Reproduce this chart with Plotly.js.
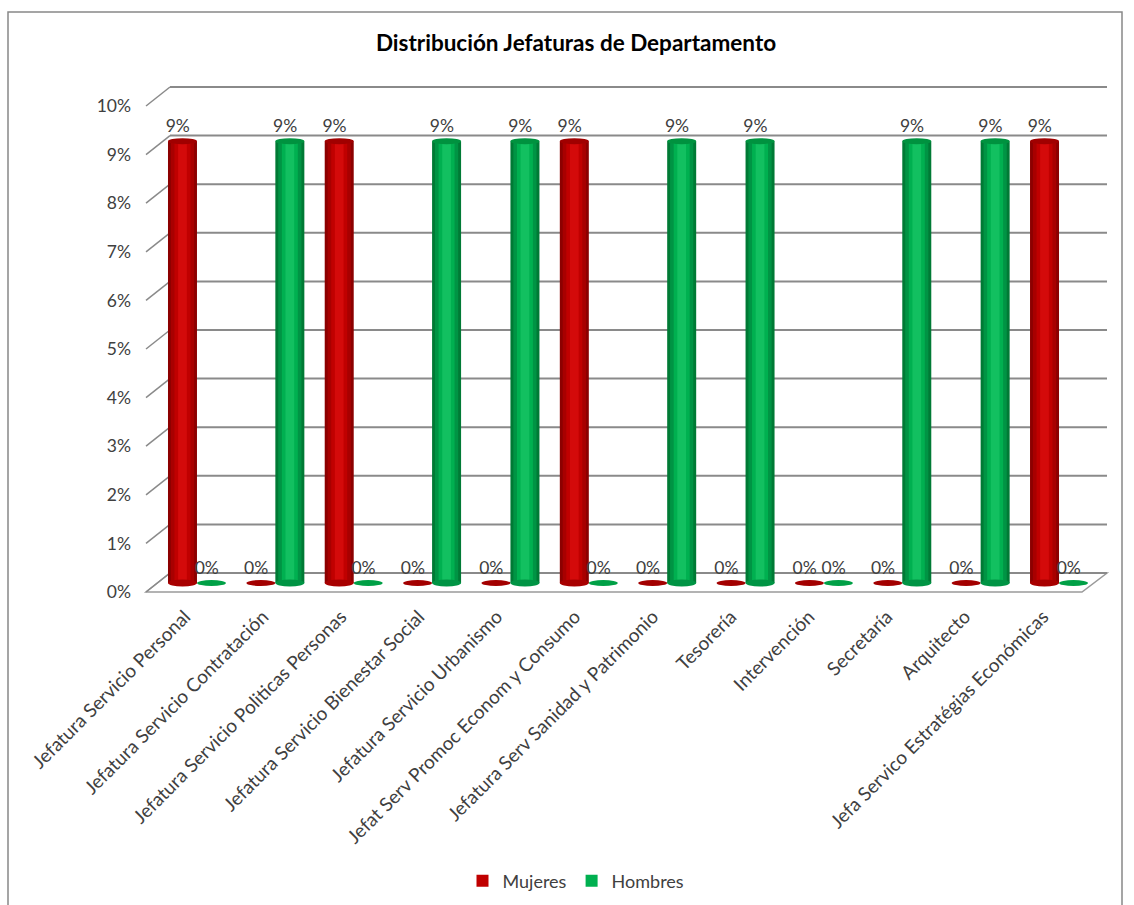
<!DOCTYPE html>
<html>
<head>
<meta charset="utf-8">
<script src="https://cdn.plot.ly/plotly-3.0.1.min.js"></script>
<style>
  html, body { margin: 0; padding: 0; background: #ffffff; }
  #chart { width: 1134px; height: 905px; }
</style>
</head>
<body>
<div id="chart"></div>
<script>
// Departments (x categories)
const categories = [
  "Jefatura Servicio Personal",
  "Jefatura Servicio Contratación",
  "Jefatura Servicio Politicas Personas",
  "Jefatura Servicio Bienestar Social",
  "Jefatura Servicio Urbanismo",
  "Jefat Serv Promoc Econom y Consumo",
  "Jefatura Serv Sanidad y Patrimonio",
  "Tesorería",
  "Intervención",
  "Secretaría",
  "Arquitecto",
  "Jefa Servico Estratégias Económicas"
];

// Share of department heads by sex (fraction of total)
const mujeres = [0.0909, 0, 0.0909, 0, 0, 0.0909, 0, 0, 0, 0, 0, 0.0909];
const hombres = [0, 0.0909, 0, 0.0909, 0.0909, 0, 0.0909, 0.0909, 0, 0.0909, 0.0909, 0];

const seriesNames = ["Mujeres", "Hombres"];

// Value axis ticks
const yTicks = [0, 0.01, 0.02, 0.03, 0.04, 0.05, 0.06, 0.07, 0.08, 0.09, 0.10];

// ---- page geometry helpers (pixels -> paper fractions) ----
const W = 1134, H = 905;
const px = x => x / W;
const py = y => (H - y) / H;
const PX_PER_UNIT = 4860;   // vertical pixels per 100 %
const pad = p => p / PX_PER_UNIT;

const FONT = "Lato, 'Open Sans', sans-serif";
const TXT = "#404040";
const GRID = "#8a8a8a";

const idx = categories.map((c, i) => i);
const barW = 0.37;              // bar width in category units
const half = barW / 2;
const offsets = [-half, half];  // Mujeres left, Hombres right

// cylinder shading: outer -> inner layers
const shades = {
  Mujeres: { layers: ["#8c0000", "#a80000", "#c00000", "#d40a0a"], cap: "#a00000", disc: "#a30000", legend: "#c00000" },
  Hombres: { layers: ["#007a35", "#009444", "#00b050", "#12c060"], cap: "#00923f", disc: "#00a046", legend: "#00b050" }
};
const layerFrac = [1, 0.8, 0.55, 0.3];

const traces = [];
const shapes = [];
const seriesValues = [mujeres, hombres];

seriesNames.forEach((name, s) => {
  const vals = seriesValues[s];
  const xs = idx.map(i => i + offsets[s]);
  const sh = shades[name];
  layerFrac.forEach((f, k) => {
    traces.push({
      type: "bar",
      x: xs,
      y: vals,
      width: barW * f,
      xaxis: "x3", yaxis: "y3",
      name: name,
      legendgroup: name,
      showlegend: k === 2,
      marker: { color: k === 2 ? sh.legend : sh.layers[k], line: { width: 0 } },
      hoverinfo: "skip"
    });
  });
  // value labels (transparent marker keeps the text clear of the bar end)
  traces.push({
    type: "scatter",
    mode: "markers+text",
    x: idx.map(i => i + offsets[s] - 0.06),
    y: vals,
    texttemplate: "%{y:.0%}",
    textposition: "top center",
    textfont: { family: FONT, size: 17.5, color: TXT },
    marker: { size: 6, color: "rgba(0,0,0,0)" },
    xaxis: "x3", yaxis: "y3",
    showlegend: false,
    cliponaxis: false,
    hoverinfo: "skip"
  });
  // cylinder ends / flat discs for zero values
  vals.forEach((v, i) => {
    const xc = i + offsets[s];
    const base = { type: "circle", xref: "x3", yref: "y3", xsizemode: "pixel", ysizemode: "pixel",
                   xanchor: xc, x0: -14.5, x1: 14.5, layer: "above", line: { width: 0 } };
    if (v > 0) {
      shapes.push(Object.assign({}, base, { yanchor: 0, y0: -3.5, y1: 3.5, fillcolor: sh.layers[1] }));
      shapes.push(Object.assign({}, base, { yanchor: v, y0: -3, y1: 3, fillcolor: sh.cap }));
    } else {
      shapes.push(Object.assign({}, base, { yanchor: 0, y0: -3, y1: 3, fillcolor: sh.disc }));
    }
  });
});

// floor
shapes.push({ type: "path", xref: "paper", yref: "paper", layer: "below",
  path: `M ${px(146)} ${py(592)} L ${px(1082)} ${py(592)} L ${px(1107)} ${py(573)} L ${px(170)} ${py(573)} Z`,
  fillcolor: "#ffffff", line: { color: "#9a9a9a", width: 1.5 } });

// back-wall gridlines and diagonal connectors to the front labels
yTicks.forEach(v => {
  shapes.push({ type: "line", xref: "paper", yref: "y", layer: "below",
                x0: px(170), x1: px(1107), y0: v, y1: v,
                line: { color: GRID, width: 2 } });
  shapes.push({ type: "line", xref: "paper", yref: "y2", ysizemode: "pixel", yanchor: v,
                x0: px(146), x1: px(170), y0: 0, y1: 19, layer: "below",
                line: { color: GRID, width: 1.5 } });
});

// outer frame
shapes.push({ type: "rect", xref: "paper", yref: "paper", layer: "below",
  x0: px(8), x1: px(1122), y0: -0.02, y1: py(12),
  fillcolor: "rgba(0,0,0,0)", line: { color: "#888888", width: 1.5 } });

const layout = {
  width: W, height: H,
  margin: { l: 0, r: 0, t: 0, b: 0, pad: 0 },
  paper_bgcolor: "#ffffff",
  plot_bgcolor: "rgba(0,0,0,0)",
  barmode: "overlay",
  font: { family: FONT, color: TXT, size: 17.5 },
  title: {
    text: "<b>Distribución Jefaturas de Departamento</b>",
    x: px(576), xanchor: "center", y: py(43), yanchor: "middle",
    font: { family: FONT, size: 22.5, color: "#000000" }
  },
  // back wall: 0..10 % at y = 573..87 px (domain padded 4 px so edge lines are not clipped)
  xaxis: { domain: [px(170), px(1107)], range: [0, 1], visible: false, fixedrange: true },
  yaxis: { domain: [py(577), py(83)], range: [-pad(4), 0.1 + pad(4)], visible: false, fixedrange: true },
  // front edge: labels, 0..10 % at y = 592..106 px (padded so the connectors fit)
  xaxis2: { domain: [px(146), px(1082)], range: [-0.5, 11.5], anchor: "y2",
            tickvals: idx, ticktext: categories, tickangle: -45, ticks: "",
            showgrid: false, zeroline: false, showline: false, ticklabelstandoff: 6,
            tickfont: { family: FONT, size: 19, color: TXT }, fixedrange: true },
  yaxis2: { domain: [py(595), py(82)], range: [-pad(3), 0.1 + pad(24)], anchor: "x2",
            tickvals: yTicks, tickformat: ".0%", ticks: "", showgrid: false,
            zeroline: false, showline: false, ticklabelstandoff: 14,
            tickfont: { family: FONT, size: 17.5, color: TXT }, fixedrange: true },
  // bars (mid depth): 0 at y = 583 px, domain extended 10 px below for the end discs
  xaxis3: { domain: [px(157.8), px(1098.2)], range: [-0.5, 11.5], anchor: "y3", visible: false, fixedrange: true },
  yaxis3: { domain: [py(593), py(97)], range: [-pad(10), 0.1], anchor: "x3", visible: false, fixedrange: true },
  showlegend: true,
  legend: {
    orientation: "h", x: px(576), xanchor: "center", y: py(881), yanchor: "middle",
    font: { family: FONT, size: 18, color: TXT }, bgcolor: "rgba(0,0,0,0)"
  },
  shapes: shapes
};

Plotly.newPlot("chart", traces, layout, { staticPlot: true, displayModeBar: false });
</script>
</body>
</html>
